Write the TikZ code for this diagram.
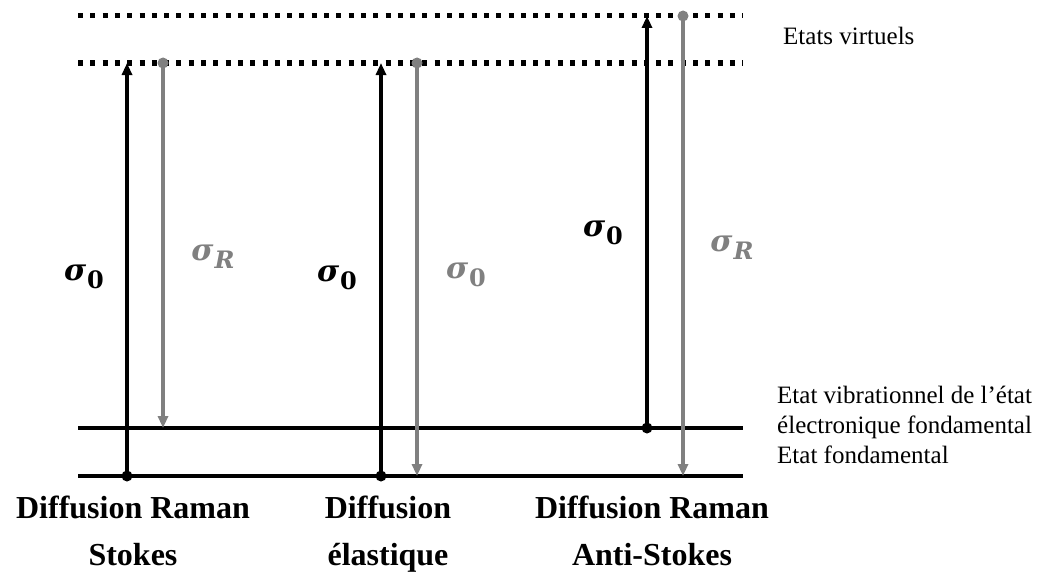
\documentclass[tikz,border=0pt]{standalone}
\usepackage{fontspec}
\setmainfont{Liberation Serif}
\newfontfamily\sigf{DejaVu Serif}
\usetikzlibrary{arrows.meta}
\definecolor{gris}{RGB}{128,128,128}
\newcommand\sgmup[1]{{\sigf\bfseries\itshape σ}\kern1pt\raisebox{-8pt}{\fontsize{24}{24}\selectfont\sigf\bfseries #1}}
\newcommand\sgmit[1]{{\sigf\bfseries\itshape σ}\kern1pt\raisebox{-8pt}{\fontsize{24}{24}\selectfont\sigf\bfseries\itshape #1}}
\tikzset{
  level/.style={line width=4.5pt},
  virt/.style={line width=5pt, dash pattern=on 5pt off 7.3pt},
  up/.style={line width=3.2pt, black, -{Triangle[length=12pt,width=10pt]}},
  down/.style={line width=3.2pt, gris, -{Triangle[length=12pt,width=10pt]}},
  dotb/.style={circle, fill=black, inner sep=0pt, minimum size=11pt},
  dotg/.style={circle, fill=gris, inner sep=0pt, minimum size=11pt},
  sig/.style={font=\fontsize{30}{30}\selectfont, inner sep=0pt},
  rlab/.style={font=\fontsize{25}{29}\selectfont, anchor=base west, inner sep=0pt},
  blab/.style={font=\fontsize{32}{47}\selectfont\bfseries, align=center, inner sep=0pt, anchor=north},
}
\begin{document}
\begin{tikzpicture}[x=1pt,y=-1pt]
\useasboundingbox (0,0) rectangle (1051,578);
% level lines
\coordinate (v2l) at (78,16);  \coordinate (v2r) at (743,16);
\coordinate (v1l) at (78,63);  \coordinate (v1r) at (743,63);
\coordinate (e1l) at (78,428); \coordinate (e1r) at (743,428);
\coordinate (e0l) at (78,476); \coordinate (e0r) at (743,476);
\draw[virt] (v2l) -- (v2r);
\draw[virt] (v1l) -- (v1r);
\draw[level] (e1l) -- (e1r);
\draw[level] (e0l) -- (e0r);
% Stokes
\node[dotb] (sa) at (127,476) {};
\coordinate (sb) at (127,63);
\node[dotg] (sc) at (163,63) {};
\coordinate (sd) at (163,428);
\draw[up] (sa.center) -- (sb);
\draw[down] (sc.center) -- (sd);
% elastic
\node[dotb] (ea) at (381,476) {};
\coordinate (eb) at (381,63);
\node[dotg] (ec) at (417,63) {};
\coordinate (ed) at (417,476);
\draw[up] (ea.center) -- (eb);
\draw[down] (ec.center) -- (ed);
% anti-Stokes
\node[dotb] (aa) at (647,428) {};
\coordinate (ab) at (647,16);
\node[dotg] (ac) at (683,16) {};
\coordinate (ad) at (683,476);
\draw[up] (aa.center) -- (ab);
\draw[down] (ac.center) -- (ad);
% sigma labels
\node[sig] (l1) at (84,277) {\sgmup{0}};
\node[sig, text=gris] (l2) at (213,257) {\sgmit{R}};
\node[sig] (l3) at (337,278) {\sgmup{0}};
\node[sig, text=gris] (l4) at (466,275) {\sgmup{0}};
\node[sig] (l5) at (603,233) {\sgmup{0}};
\node[sig, text=gris] (l6) at (732,248) {\sgmit{R}};
% right labels
\node[rlab] (r1) at (783,45) {Etats virtuels};
\node[rlab] (r2) at (777,403) {Etat vibrationnel de l’état};
\node[rlab] (r3) at (777,433) {électronique fondamental};
\node[rlab] (r4) at (777,463) {Etat fondamental};
% bottom labels
\node[blab] (b1) at (133,496) {Diffusion Raman\\Stokes};
\node[blab] (b2) at (388,496) {Diffusion\\élastique};
\node[blab] (b3) at (652,496) {Diffusion Raman\\Anti-Stokes};
\end{tikzpicture}
\end{document}
